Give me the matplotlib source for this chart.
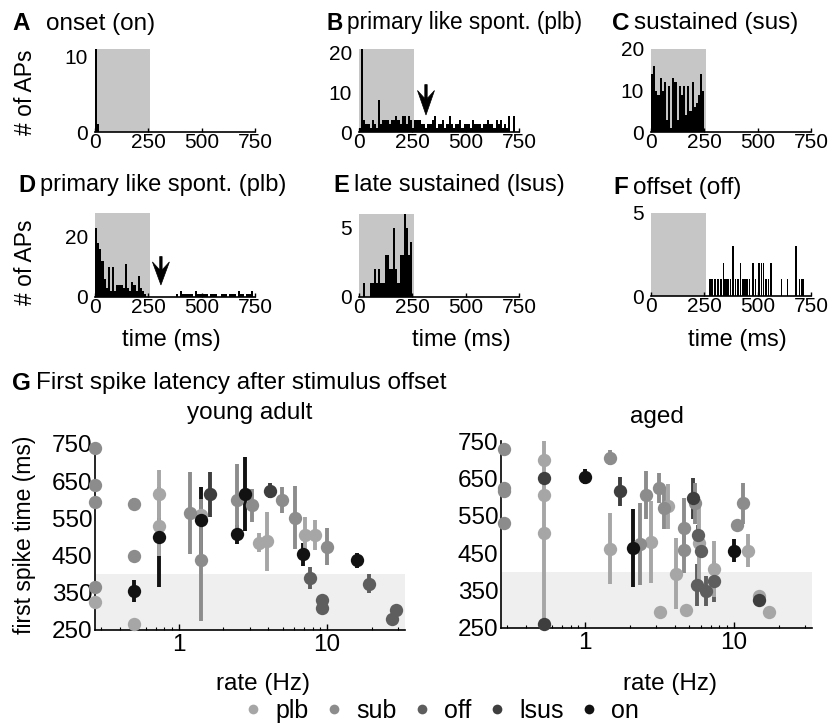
import numpy as np
import matplotlib
matplotlib.use('Agg')
import matplotlib.pyplot as plt
from matplotlib.lines import Line2D
from matplotlib.patches import Polygon

plt.rcParams['font.family'] = ['Liberation Sans', 'DejaVu Sans']

W, H = 833, 723

# ---------------- histogram data (10 ms bins, starting at 0 ms) ----------------
BIN = 10
STIM_END = 260
a_counts = [11, 1]
b_counts = [1, 21, 3, 2, 2, 1, 3, 2, 1, 8, 2, 3, 3, 3, 2, 3, 3, 4, 3, 2, 4, 4, 2, 4, 3, 1,
            3, 3, 3, 2, 2, 1, 2, 2, 3, 4, 1, 2, 2, 3, 1, 2, 4, 2, 1, 2, 2, 3, 1, 2, 2, 2,
            1, 3, 2, 2, 2, 1, 2, 2, 3, 2, 2, 1, 3, 2, 3, 1, 2, 1, 4, 0, 4]
c_counts = [14, 16, 10, 9, 13, 10, 12, 3, 11, 1, 13, 12, 3, 11, 9, 11, 4, 11, 5, 12, 6, 7, 9, 14, 10]
d_counts = [23, 18, 16, 12, 6, 3, 10, 2, 10, 2, 4, 4, 4, 3, 11, 3, 2, 5, 4, 2, 7, 3, 2, 1,
            0, 0, 0, 0, 0, 0, 0, 0, 0, 0, 0, 0, 0, 0,
            1, 0, 2, 1, 1, 1, 1, 1, 0, 2, 1, 1, 1, 1, 1, 0, 1, 1, 1, 0, 0, 1, 1, 1, 0, 1,
            1, 1, 0, 2, 1, 1, 0, 1, 1, 2]
e_counts = [0, 0, 1, 0, 0, 1, 1, 2, 1, 2, 1, 1, 3, 3, 2, 2, 5, 2, 1, 3, 3, 6, 5, 3, 4]
f_times = [276, 287, 300, 313, 329, 340, 348, 356, 364, 372, 384, 396, 407, 419, 431, 440,
           451, 462, 478, 491, 507, 518, 528, 539, 550, 563, 611, 640, 679, 695, 707, 716]
f_counts = [1, 1, 1, 1, 1, 2, 1, 1, 1, 1, 3, 1, 1, 2, 1, 1,
            1, 1, 2, 1, 2, 2, 2, 1, 1, 2, 1, 1, 3, 1, 1, 1]

hist_ticks_x = [0, 250, 500, 750]

# ---------------- scatter data: first spike latency ----------------
cats = ['plb', 'sub', 'off', 'lsus', 'on']
cat_colors = {'plb': '#a6a6a6', 'sub': '#8c8c8c', 'off': '#5e5e5e', 'lsus': '#3e3e3e', 'on': '#121212'}

young_rate = [0.27, 0.27, 0.27, 0.27, 0.27, 0.50, 0.50, 0.50, 0.50, 0.74, 0.74, 0.74,
              1.18, 1.40, 1.40, 1.40, 1.63, 2.47, 2.47, 2.81, 3.12, 3.46, 3.94, 4.09,
              4.97, 6.05, 6.86, 7.07, 7.72, 8.34, 9.3, 9.2, 10.0, 15.9, 19.1, 27.4, 29.1]
young_lat = [740, 640, 595, 365, 325, 590, 450, 355, 265, 615, 530, 500,
             565, 545, 560, 438, 615, 600, 507, 615, 585, 485, 488, 625,
             600, 552, 453, 505, 390, 505, 330, 308, 474, 438, 375, 280, 305]
young_err = [0, 0, 0, 0, 0, 15, 0, 30, 0, 65, 80, 135,
             110, 90, 0, 165, 60, 95, 25, 100, 45, 25, 80, 20,
             35, 85, 30, 50, 30, 40, 0, 0, 50, 20, 25, 0, 0]
young_type = ['sub', 'sub', 'sub', 'sub', 'plb', 'sub', 'sub', 'on', 'plb', 'plb', 'plb', 'on',
              'sub', 'on', 'plb', 'sub', 'lsus', 'sub', 'on', 'on', 'sub', 'plb', 'plb', 'lsus',
              'sub', 'sub', 'on', 'plb', 'off', 'plb', 'off', 'off', 'sub', 'on', 'off', 'off', 'off']

aged_rate = [0.283, 0.283, 0.283, 0.283, 0.531, 0.531, 0.531, 0.531, 0.531, 1.0, 1.46, 1.46,
             1.71, 2.09, 2.34, 2.55, 2.76, 3.19, 3.14, 3.39, 3.61, 4.06, 4.62, 4.62, 4.80,
             5.33, 5.45, 5.77, 5.82, 5.98, 5.68, 6.45, 7.34, 7.34, 10.0, 10.5, 11.6, 12.5,
             14.7, 14.7, 17.2]
aged_lat = [728, 624, 615, 530, 700, 650, 605, 505, 262, 655, 705, 462,
            615, 464, 475, 606, 480, 293, 625, 570, 575, 395, 518, 458, 298,
            597, 583, 500, 477, 455, 365, 350, 375, 408, 457, 525, 583, 457,
            325, 335, 293]
aged_err = [0, 0, 0, 0, 0, 0, 0, 245, 0, 20, 20, 95,
            38, 105, 110, 65, 110, 0, 40, 55, 60, 95, 80, 60, 0,
            55, 55, 25, 100, 0, 55, 40, 55, 75, 30, 0, 55, 45,
            0, 0, 0]
aged_type = ['sub', 'sub', 'sub', 'sub', 'plb', 'lsus', 'plb', 'plb', 'lsus', 'on', 'sub', 'plb',
             'lsus', 'on', 'sub', 'sub', 'plb', 'plb', 'sub', 'sub', 'plb', 'plb', 'sub', 'sub', 'plb',
             'lsus', 'sub', 'off', 'plb', 'off', 'off', 'off', 'off', 'plb', 'on', 'sub', 'sub', 'plb',
             'lsus', 'plb', 'plb']

lat_ticks = [250, 350, 450, 550, 650, 750]

# ---------------- figure ----------------
fig = plt.figure(figsize=(W / 100, H / 100), dpi=100)


def rect(l, t, r, b):
    return [l / W, 1 - b / H, (r - l) / W, (b - t) / H]


TICK_FS = 15
TITLE_FS = 17.5


def hist_axes(box, counts, ymax, yticks, times=None, width=BIN):
    ax = fig.add_axes(rect(*box))
    ax.axvspan(0, STIM_END, color='#c6c6c6', zorder=0, lw=0)
    if times is None:
        x = np.arange(len(counts)) * BIN
        ax.bar(x, counts, width=BIN, align='edge', color='k', lw=0, zorder=2)
    else:
        ax.bar(times, counts, width=width, align='center', color='k', lw=0, zorder=2)
    ax.set_xlim(0, 750)
    ax.set_ylim(0, ymax)
    ax.set_xticks(hist_ticks_x)
    ax.set_yticks(yticks)
    for s in ['top', 'right', 'left']:
        ax.spines[s].set_visible(False)
    ax.spines['bottom'].set_linewidth(1.2)
    ax.tick_params(axis='x', direction='in', length=3, width=1, pad=1, labelsize=TICK_FS)
    ax.tick_params(axis='y', length=0, pad=5, labelsize=TICK_FS)
    ax.set_facecolor('none')
    return ax


axA = hist_axes((95, 49, 255, 132), a_counts, 11, [0, 10])
axB = hist_axes((359, 49, 519, 132), b_counts, 21, [0, 10, 20])
axC = hist_axes((651, 49, 811, 132), c_counts, 20, [0, 10, 20])
axD = hist_axes((95, 213, 255, 297), d_counts, 28, [0, 20])
axE = hist_axes((359, 214, 519, 297), e_counts, 6, [0, 5])
axF = hist_axes((651, 213, 811, 296), f_counts, 5, [0, 5], times=f_times, width=7)


# arrows in B and D (notched arrowhead, drawn in pixel offsets around a data anchor)
def notched_arrow(ax, x, ytip, ytop):
    trans = ax.transData
    tx, ty = trans.transform((x, ytip))
    _, topy = trans.transform((x, ytop))
    L = topy - ty
    hw = 8.5
    hl = 0.74 * L
    pts_px = [(tx, ty), (tx - hw, ty + hl + 2), (tx - 1.2, ty + hl - 6), (tx - 1.2, ty + L),
              (tx + 1.2, ty + L), (tx + 1.2, ty + hl - 6), (tx + hw, ty + hl + 2)]
    inv = ax.transData.inverted()
    pts = [inv.transform(p) for p in pts_px]
    ax.add_patch(Polygon(pts, closed=True, facecolor='k', edgecolor='k', lw=0.5, zorder=4))


fig.canvas.draw()
notched_arrow(axB, 314, 4.3, 12.0)
notched_arrow(axD, 309, 4.0, 13.5)


def panel_title(x, y, letter, text, fs=TITLE_FS, gap=5):
    t = fig.text(x / W, 1 - y / H, letter, fontsize=fs, fontweight='bold', va='center', ha='left')
    fig.canvas.draw()
    bb = t.get_window_extent()
    fig.text((bb.x1 + gap) / W, 1 - y / H, text, fontsize=fs, va='center', ha='left')


panel_title(12, 24, 'A', 'onset (on)', gap=16)
panel_title(326, 23, 'B', 'primary like spont. (plb)', fs=16.3)
panel_title(612, 23, 'C', 'sustained (sus)')
panel_title(18, 185, 'D', 'primary like spont. (plb)', fs=17)
panel_title(333, 185, 'E', 'late sustained (lsus)', fs=17)
panel_title(613, 188, 'F', 'offset (off)')
panel_title(12, 383, 'G', 'First spike latency after stimulus offset')

fig.text(25 / W, 1 - 92 / H, '# of APs', rotation=90, fontsize=16.5, ha='center', va='center')
fig.text(25 / W, 1 - 262 / H, '# of APs', rotation=90, fontsize=16.5, ha='center', va='center')
for xc in (171, 461, 737):
    fig.text(xc / W, 1 - 340 / H, 'time (ms)', fontsize=17, ha='center', va='center')


# ---------------- latency scatter panels ----------------
def lat_axes(box, rates, lats, errs, types, title, title_y):
    ax = fig.add_axes(rect(*box))
    ax.axhspan(250, 400, color='#efefef', lw=0, zorder=0)
    rates = np.asarray(rates)
    lats = np.asarray(lats)
    errs = np.asarray(errs)
    types = np.asarray(types)
    for c in ['on', 'lsus', 'off', 'sub', 'plb']:
        m = (types == c) & (errs > 0)
        ax.errorbar(rates[m], lats[m], yerr=errs[m], fmt='none', ecolor=cat_colors[c],
                    elinewidth=2.8, capsize=0, zorder=2, clip_on=False)
    for c in ['plb', 'sub', 'off', 'lsus', 'on']:
        m = types == c
        ax.plot(rates[m], lats[m], 'o', color=cat_colors[c], ms=9.6, mew=0, zorder=3, clip_on=False)
    ax.set_xscale('log')
    ax.set_xlim(0.272, 33.5)
    ax.set_ylim(250, 750)
    ax.set_yticks(lat_ticks)
    ax.set_xticks([1, 10])
    ax.set_xticklabels(['1', '10'])
    for s in ['top', 'right']:
        ax.spines[s].set_visible(False)
    ax.spines['left'].set_linewidth(1.2)
    ax.spines['bottom'].set_linewidth(1.2)
    ax.tick_params(axis='both', which='major', direction='in', length=4, width=1, labelsize=17.5, pad=3)
    ax.tick_params(axis='y', which='major', length=0, pad=2)
    ax.tick_params(axis='x', which='minor', direction='in', length=2.5, width=0.8)
    ax.set_facecolor('none')
    xc = (box[0] + box[2]) / 2
    fig.text(xc / W, 1 - title_y / H, title, fontsize=17.5, ha='center', va='center')
    return ax


axY = lat_axes((95, 444, 405, 630), young_rate, young_lat, young_err, young_type, 'young adult', 413)
axO = lat_axes((501, 441, 812, 628), aged_rate, aged_lat, aged_err, aged_type, 'aged', 417)

fig.text(25 / W, 1 - 535 / H, 'first spike time (ms)', rotation=90, fontsize=16.5, ha='center', va='center')
fig.text(263 / W, 1 - 684 / H, 'rate (Hz)', fontsize=17.5, ha='center', va='center')
fig.text(670 / W, 1 - 684 / H, 'rate (Hz)', fontsize=17.5, ha='center', va='center')

handles = [Line2D([], [], marker='o', ls='none', color=cat_colors[c], ms=7, mew=0) for c in cats]
fig.legend(handles, cats, loc='center', bbox_to_anchor=(441 / W, 1 - 711 / H), ncol=5, frameon=False,
           fontsize=18, handletextpad=0.5, columnspacing=0.6, handlelength=0.8, borderpad=0)

fig.savefig('out.png', dpi=100)
